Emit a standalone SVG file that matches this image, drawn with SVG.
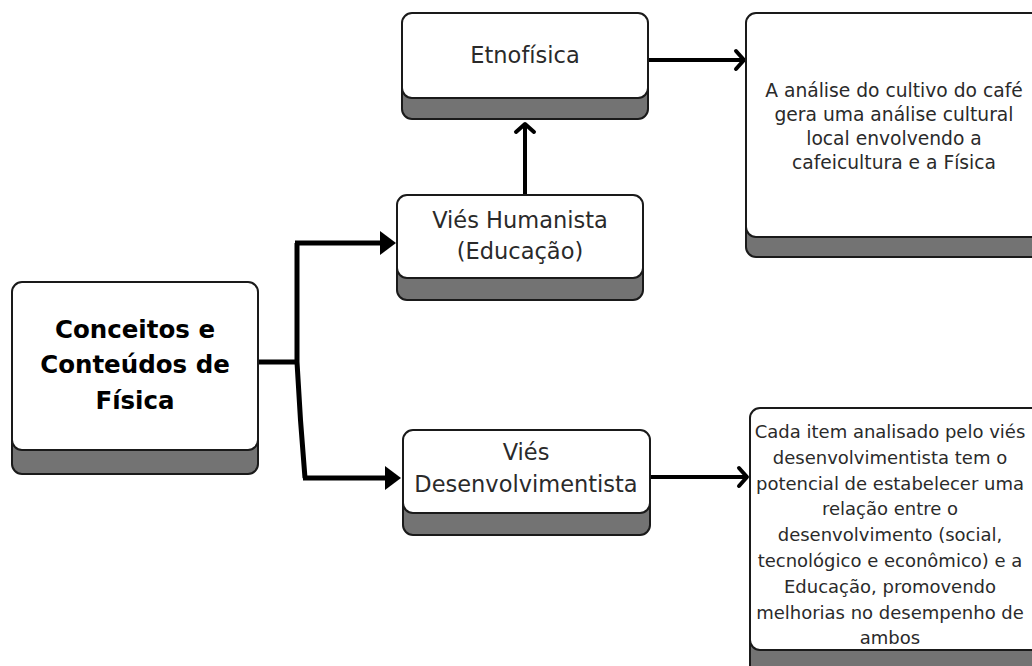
<svg xmlns="http://www.w3.org/2000/svg" width="1032" height="666" viewBox="0 0 1032 666">
<style>
.face{fill:#ffffff;stroke:#1a1a1a;stroke-width:2}
.shadow{fill:#737373;stroke:#1a1a1a;stroke-width:2}
.t{font-family:"DejaVu Sans","Liberation Sans",sans-serif;fill:#2a2a2a;text-anchor:middle}
.m{font-size:22.5px}
.r1{font-size:18.7px}
.r2{font-size:18px}
.tb{font-family:"DejaVu Sans","Liberation Sans",sans-serif;fill:#000;text-anchor:middle;font-weight:bold;font-size:24.5px}
.c{fill:none;stroke:#000;stroke-width:5}
.c2{fill:none;stroke:#000;stroke-width:4}
</style>
<defs>
<marker id="tri" markerUnits="userSpaceOnUse" markerWidth="20" markerHeight="28" viewBox="0 -14 20 28" refX="0" refY="0" orient="auto">
<path d="M0,-12 L16,0 L0,12 Z" fill="#000"/>
</marker>
<marker id="chev" markerUnits="userSpaceOnUse" markerWidth="20" markerHeight="26" viewBox="-14 -13 20 26" refX="0" refY="0" orient="auto">
<path d="M-9,-9 L-1,0 L-9,9" fill="none" stroke="#000" stroke-width="4" stroke-linecap="round" stroke-linejoin="round"/>
</marker>
</defs>
<g id="connectors">
<path class="c" d="M258,362 H299"/>
<path class="c" d="M297,243 L297,362 Q300,420 305,478"/>
<path class="c" d="M295,243 H380" marker-end="url(#tri)"/>
<path class="c" d="M303,478 H385" marker-end="url(#tri)"/>
<path class="c2" d="M525,195 V123" marker-end="url(#chev)"/>
<path class="c2" d="M648,60 H745" marker-end="url(#chev)"/>
<path class="c2" d="M650,477 H748" marker-end="url(#chev)"/>
</g>
<g id="conceitos">
<rect class="shadow" x="12" y="425" width="246" height="49" rx="10"/>
<rect class="face" x="12" y="282" width="246" height="168" rx="10"/>
<text class="tb" x="135" y="338">Conceitos e</text>
<text class="tb" x="135" y="373">Conteúdos de</text>
<text class="tb" x="135" y="409">Física</text>
</g>
<g id="etnofisica">
<rect class="shadow" x="402" y="75" width="246" height="44" rx="10"/>
<rect class="face" x="402" y="13" width="246" height="85" rx="10"/>
<text class="t m" x="525" y="63">Etnofísica</text>
</g>
<g id="humanista">
<rect class="shadow" x="397" y="255" width="246" height="45" rx="10"/>
<rect class="face" x="397" y="195" width="246" height="83" rx="10"/>
<text class="t m" x="520" y="228">Viés Humanista</text>
<text class="t m" x="520" y="259">(Educação)</text>
</g>
<g id="desenvolvimentista">
<rect class="shadow" x="403" y="490" width="247" height="45" rx="10"/>
<rect class="face" x="403" y="430" width="247" height="83" rx="10"/>
<text class="t m" x="526" y="460">Viés</text>
<text class="t m" x="526" y="492">Desenvolvimentista</text>
</g>
<g id="cafe">
<rect class="shadow" x="746" y="215" width="300" height="42" rx="10"/>
<rect class="face" x="746" y="13" width="300" height="224" rx="10"/>
<text class="t r1" x="894" y="97">A análise do cultivo do café</text>
<text class="t r1" x="894" y="121">gera uma análise cultural</text>
<text class="t r1" x="894" y="145">local envolvendo a</text>
<text class="t r1" x="894" y="169">cafeicultura e a Física</text>
</g>
<g id="item">
<rect class="shadow" x="750" y="625" width="300" height="60" rx="10"/>
<rect class="face" x="750" y="408" width="300" height="242" rx="10"/>
<text class="t r2" x="890" y="438">Cada item analisado pelo viés</text>
<text class="t r2" x="890" y="464">desenvolvimentista tem o</text>
<text class="t r2" x="890" y="490">potencial de estabelecer uma</text>
<text class="t r2" x="890" y="515">relação entre o</text>
<text class="t r2" x="890" y="541">desenvolvimento (social,</text>
<text class="t r2" x="890" y="567">tecnológico e econômico) e a</text>
<text class="t r2" x="890" y="593">Educação, promovendo</text>
<text class="t r2" x="890" y="619">melhorias no desempenho de</text>
<text class="t r2" x="890" y="644">ambos</text>
</g>
</svg>
